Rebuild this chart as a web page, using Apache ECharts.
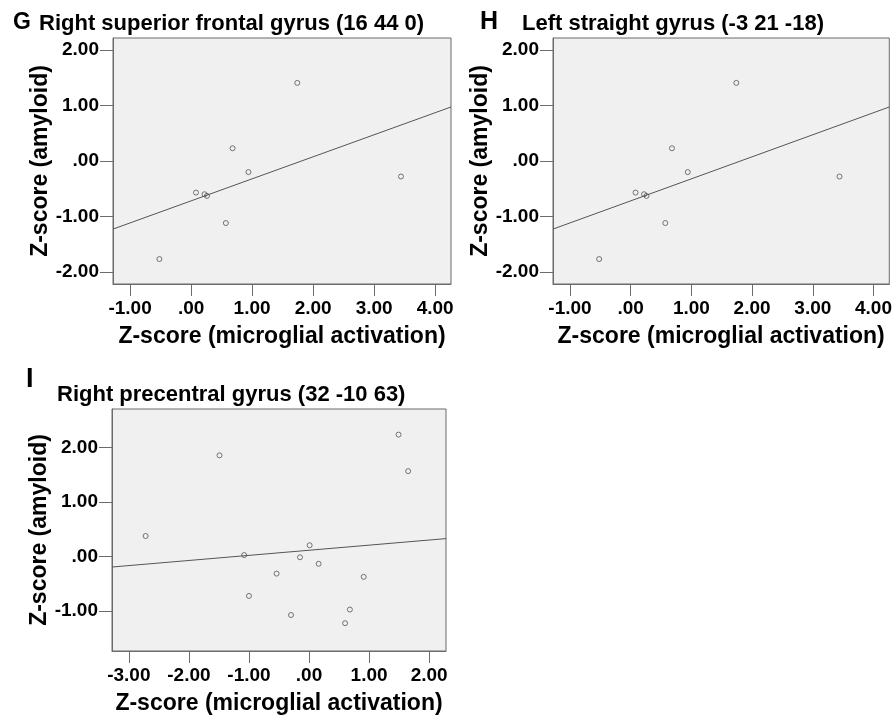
<!DOCTYPE html>
<html><head><meta charset="utf-8">
<script src="https://cdn.jsdelivr.net/npm/echarts@6/dist/echarts.min.js"></script>
<style>html,body{margin:0;padding:0;background:#fff}#c{width:895px;height:719px}</style>
</head><body><div id="c"></div>
<script>
// ---- data ----
const microgliaG = [-0.52, 0.08, 0.22, 0.26, 0.57, 0.68, 0.94, 1.74, 3.44];
const amyloidG   = [-1.77, -0.57, -0.60, -0.63, -1.12, 0.23, -0.20, 1.41, -0.28];
const microgliaH = [-0.52, 0.08, 0.22, 0.26, 0.57, 0.68, 0.94, 1.74, 3.44];
const amyloidH   = [-1.77, -0.57, -0.60, -0.63, -1.12, 0.23, -0.20, 1.41, -0.28];
const microgliaI = [-2.72, -1.49, -1.08, -1.00, -0.54, -0.30, -0.15, 0.01, 0.16, 0.60, 0.68, 0.91, 1.49, 1.65];
const amyloidI   = [0.38, 1.86, 0.03, -0.72, -0.31, -1.07, -0.01, 0.21, -0.13, -1.22, -0.97, -0.37, 2.24, 1.57];

const xTicksGH = [-1, 0, 1, 2, 3, 4];
const yTicksGH = [-2, -1, 0, 1, 2];
const xTicksI  = [-3, -2, -1, 0, 1, 2];
const yTicksI  = [-1, 0, 1, 2];

const panelLetters = ['G', 'H', 'I'];
const panelTitles = ['Right superior frontal gyrus (16 44 0)', 'Left straight gyrus (-3 21 -18)', 'Right precentral gyrus (32 -10 63)'];
const xAxisTitle = 'Z-score (microglial activation)';
const yAxisTitle = 'Z-score (amyloid)';

// ---- chart ----
const FONT = '"Liberation Sans", Arial, sans-serif';
const GRAY = '#6b6b6b';
const fmt = v => { let s = Number(v).toFixed(2); if (s.startsWith('0.')) s = s.slice(1); if (s.startsWith('-0.')) s = '-' + s.slice(2); return s; };

function fit(xs, ys) {
  const n = xs.length;
  const mx = xs.reduce((a, b) => a + b, 0) / n;
  const my = ys.reduce((a, b) => a + b, 0) / n;
  let sxy = 0, sxx = 0;
  for (let i = 0; i < n; i++) { sxy += (xs[i] - mx) * (ys[i] - my); sxx += (xs[i] - mx) ** 2; }
  const b = sxy / sxx, a = my - b * mx;
  return x => a + b * x;
}

const panels = [
  { xs: microgliaG, ys: amyloidG, xr: [-1.28, 4.26], yr: [-2.22, 2.22], xt: xTicksGH, yt: yTicksGH,
    grid: { left: 113, top: 38, width: 338, height: 246 } },
  { xs: microgliaH, ys: amyloidH, xr: [-1.28, 4.26], yr: [-2.22, 2.22], xt: xTicksGH, yt: yTicksGH,
    grid: { left: 553, top: 38, width: 338, height: 246 } },
  { xs: microgliaI, ys: amyloidI, xr: [-3.28, 2.28], yr: [-1.73, 2.71], xt: xTicksI, yt: yTicksI,
    grid: { left: 112, top: 409, width: 334, height: 242 } }
];

const grids = [], xAxes = [], yAxes = [], series = [];
panels.forEach((p, i) => {
  grids.push(Object.assign({ show: true, backgroundColor: '#f0f0f0', borderColor: GRAY, borderWidth: 1 }, p.grid));
  const common = {
    axisLine: { show: true, onZero: false, lineStyle: { color: GRAY, width: 1 } },
    splitLine: { show: false },
    nameTextStyle: { fontSize: 23, fontWeight: 'bold', color: '#000', fontFamily: FONT },
    nameLocation: 'middle'
  };
  xAxes.push(Object.assign({}, common, {
    type: 'value', gridIndex: i, min: p.xr[0], max: p.xr[1], name: xAxisTitle, nameGap: 41,
    axisTick: { show: true, length: 12, customValues: p.xt, lineStyle: { color: GRAY } },
    axisLabel: { customValues: p.xt, formatter: fmt, fontSize: 19, fontWeight: 'bold', color: '#000', fontFamily: FONT, margin: 15 }
  }));
  yAxes.push(Object.assign({}, common, {
    type: 'value', gridIndex: i, min: p.yr[0], max: p.yr[1], name: yAxisTitle, nameGap: 61,
    axisTick: { show: true, length: 13, customValues: p.yt, lineStyle: { color: GRAY } },
    axisLabel: { customValues: p.yt, formatter: fmt, fontSize: 19, fontWeight: 'bold', color: '#000', fontFamily: FONT, margin: 14 }
  }));
  const f = fit(p.xs, p.ys);
  series.push({
    type: 'line', xAxisIndex: i, yAxisIndex: i, showSymbol: false, silent: true,
    data: [[p.xr[0], f(p.xr[0])], [p.xr[1], f(p.xr[1])]],
    lineStyle: { color: '#555', width: 1 }, clip: true
  });
  series.push({
    type: 'scatter', xAxisIndex: i, yAxisIndex: i, symbol: 'circle', symbolSize: 5,
    data: p.xs.map((x, k) => [x, p.ys[k]]),
    itemStyle: { color: 'rgba(0,0,0,0)', borderColor: '#555', borderWidth: 1 }
  });
});

const titles = [
  { text: panelLetters[0], left: 13, top: 11, size: 23 },
  { text: panelTitles[0], left: 39, top: 13, size: 22 },
  { text: panelLetters[1], left: 480, top: 10, size: 25 },
  { text: panelTitles[1], left: 522, top: 13, size: 22 },
  { text: panelLetters[2], left: 26, top: 366, size: 27 },
  { text: panelTitles[2], left: 57, top: 384, size: 22 }
].map(t => ({ text: t.text, left: t.left, top: t.top, padding: 0,
  textStyle: { fontSize: t.size, fontWeight: 'bold', color: '#000', fontFamily: FONT } }));

const chart = echarts.init(document.getElementById('c'), null, { renderer: 'canvas' });
chart.setOption({
  backgroundColor: '#fff',
  animation: false,
  title: titles,
  grid: grids,
  xAxis: xAxes,
  yAxis: yAxes,
  series: series
});
</script>
</body></html>
